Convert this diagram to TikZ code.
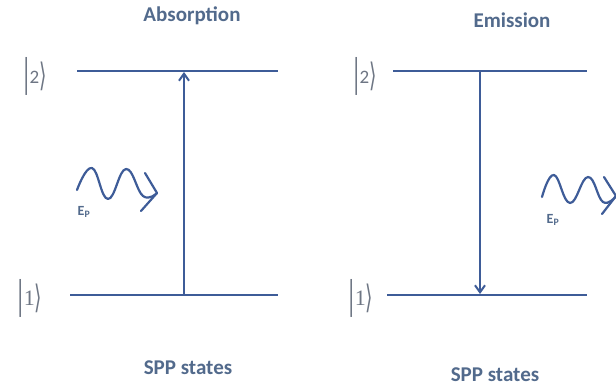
\documentclass[tikz,border=0pt]{standalone}
\usepackage{fontspec}
\setmainfont{Carlito}
\newfontfamily\ketfont{DejaVu Sans}
\newfontfamily\oneFont{Liberation Serif}
\usetikzlibrary{arrows.meta}
\definecolor{lineblue}{RGB}{62,92,152}
\definecolor{txtblue}{RGB}{82,106,140}
\definecolor{ketgray}{RGB}{110,118,132}
\newcommand{\kbar}{\scalebox{1}[2.0]{\ketfont\fontsize{19}{20}\selectfont|}}
\newcommand{\kang}{\scalebox{1}[1.7]{\ketfont\fontsize{19}{20}\selectfont ⟩}}
\tikzset{
  level/.style={draw=lineblue, line width=2.4pt},
  trans/.style={draw=lineblue, line width=2pt, -{Straight Barb[length=7pt,width=10pt,line width=2pt]}},
  title/.style={text=txtblue, font=\fontsize{21}{24}\selectfont\bfseries},
  ket/.style={text=ketgray, inner sep=0pt},
  eplabel/.style={text=txtblue, font=\fontsize{14}{16}\selectfont\bfseries},
  wave/.style={draw=lineblue, line width=2.2pt, line cap=round, line join=round},
}
\begin{document}
\begin{tikzpicture}[x=1pt,y=-1pt]
\useasboundingbox[fill=white] (0,0) rectangle (616,387);
\clip (0,0) rectangle (616,387);
% ---------- Absorption ----------
\node[title] (tA) at (192,16) {Absorption};
\coordinate (a2l) at (77,71);
\coordinate (a2r) at (278,71);
\coordinate (a1l) at (70,295);
\coordinate (a1r) at (278,295);
\coordinate (a1m) at (184,295);
\coordinate (a2m) at (184,72);
\draw[level] (a2l) -- (a2r);
\draw[level] (a1l) -- (a1r);
\draw[trans] (a1m) -- (a2m);
\node[ket] (kA2) at (35,76) {\kbar\raisebox{3pt}{\fontsize{19}{20}\selectfont 2}\kang};
\node[ket] (kA1) at (30,298) {\kbar\raisebox{3pt}{\oneFont\fontsize{22}{24}\selectfont 1}\kang};
\draw[wave] plot[smooth, tension=0.75] coordinates {(77,190) (92,168) (108,199) (126,169) (143,196) (157,193)};
\draw[wave] (145,173) -- (157,193) -- (141,211);
\node[eplabel] (epA) at (84,212) {E\textsubscript{P}};
\node[title] (sA) at (188,368) {SPP states};
% ---------- Emission ----------
\node[title] (tE) at (512,20) {Emission};
\coordinate (e2l) at (393,71);
\coordinate (e2r) at (587,71);
\coordinate (e1l) at (387,295);
\coordinate (e1r) at (587,295);
\coordinate (e2m) at (480,71);
\coordinate (e1m) at (480,294);
\draw[level] (e2l) -- (e2r);
\draw[level] (e1l) -- (e1r);
\draw[trans] (e2m) -- (e1m);
\node[ket] (kE2) at (365,76) {\kbar\raisebox{3pt}{\fontsize{19}{20}\selectfont 2}\kang};
\node[ket] (kE1) at (361,298) {\kbar\raisebox{3pt}{\oneFont\fontsize{22}{24}\selectfont 1}\kang};
\draw[wave] plot[smooth, tension=0.75] coordinates {(542,197) (554,175) (570,203) (588,177) (603,202) (616,196)};
\draw[wave] (604,177) -- (616,196) -- (602,214);
\node[eplabel] (epE) at (553,220) {E\textsubscript{P}};
\node[title] (sE) at (495,375) {SPP states};
\end{tikzpicture}
\end{document}
